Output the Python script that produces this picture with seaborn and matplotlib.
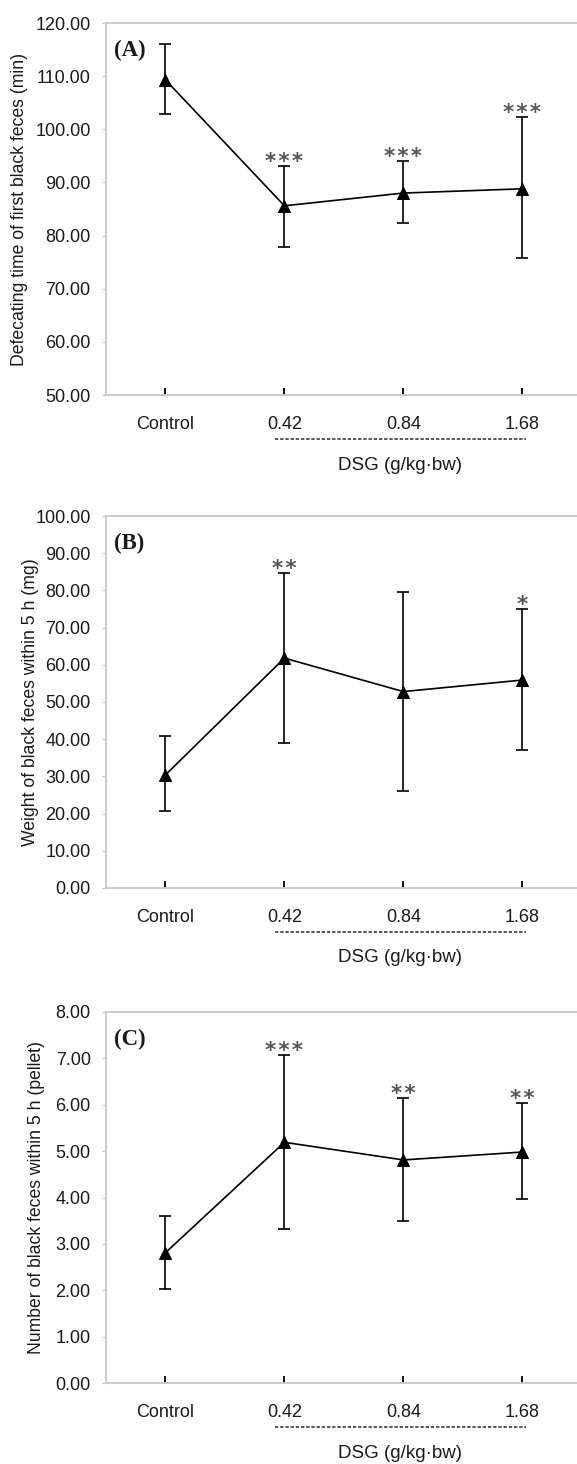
import numpy as np
import pandas as pd
import matplotlib
matplotlib.use("Agg")
import matplotlib.pyplot as plt
import matplotlib.transforms as mtransforms
import seaborn as sns

# groups on the x axis
groups = ["Control", "0.42", "0.84", "1.68"]

# (A) defecating time of first black feces (min)
time_mean = [109.3, 85.6, 88.0, 88.8]
time_hi = [116.1, 93.1, 94.0, 102.3]
time_lo = [102.9, 77.9, 82.3, 75.7]
time_stars = ["", "***", "***", "***"]

# (B) weight of black feces within 5 h (mg)
weight_mean = [30.4, 61.8, 52.8, 55.9]
weight_hi = [40.9, 84.8, 79.7, 74.9]
weight_lo = [20.8, 38.9, 26.0, 37.0]
weight_stars = ["", "**", "", "*"]

# (C) number of black feces within 5 h (pellet)
count_mean = [2.81, 5.19, 4.81, 4.98]
count_hi = [3.61, 7.08, 6.15, 6.04]
count_lo = [2.02, 3.33, 3.49, 3.96]
count_stars = ["", "***", "**", "**"]

sns.set_theme(style="white")
plt.rcParams['font.family'] = ['Liberation Sans', 'DejaVu Sans']

W, H = 577, 1464
fig = plt.figure(figsize=(W / 100, H / 100), dpi=100)

FRAME = "#c8c8c8"
TXT = "#1a1a1a"


def panel(rect, tag, mean, hi, lo, stars, ylim, step, ylabel, ylabel_x):
    ax = fig.add_axes(rect)
    df = pd.DataFrame({"group": groups, "value": mean})
    sns.lineplot(data=df, x="group", y="value", ax=ax, color="black",
                 linewidth=1.2, marker="^", markersize=8, markeredgecolor="black",
                 sort=False)
    m = np.array(mean)
    yerr = [m - np.array(lo), np.array(hi) - m]
    ax.errorbar(groups, mean, yerr=yerr, fmt="none", ecolor="black",
                elinewidth=1.2, capsize=4.5, capthick=1.2)
    for g, top, s in zip(groups, hi, stars):
        if s:
            ax.annotate("\u200a".join(s), (g, top), xytext=(0, -1.5),
                        textcoords="offset points", ha="center", va="baseline",
                        fontsize=15.5, fontweight="bold", color="#555555",
                        family="DejaVu Sans")

    ax.set_xlim(-0.5, 3.46)
    ax.set_ylim(*ylim)
    ax.set_yticks(np.arange(ylim[0], ylim[1] + step / 2, step))
    ax.yaxis.set_major_formatter(matplotlib.ticker.FormatStrFormatter("%.2f"))
    ax.set_xlabel("")
    ax.set_ylabel("")
    for side in ["left", "top", "bottom"]:
        ax.spines[side].set_color(FRAME)
        ax.spines[side].set_linewidth(1.3)
    ax.spines["right"].set_visible(False)
    ax.tick_params(axis="y", direction="out", length=3, width=1, color=FRAME,
                   pad=8, labelsize=13, labelcolor=TXT, left=True)
    ax.tick_params(axis="x", direction="in", length=5, width=1.3, color="black",
                   pad=15, labelsize=13, labelcolor=TXT, bottom=True)

    # panel tag
    ax.text(8 / (W * rect[2]), 1 - 27 / (H * rect[3]), tag, transform=ax.transAxes,
            ha="left", va="center", fontsize=16.5, fontweight="bold",
            family="Liberation Serif", color=TXT)

    # dashed bracket under the DSG doses and the group label
    trans = mtransforms.blended_transform_factory(ax.transData, ax.transAxes)
    ax.plot([0.92, 3.03], [-44 / (H * rect[3])] * 2, transform=trans, clip_on=False,
            color="#2a2a2a", linewidth=1.1, linestyle=(0, (2.2, 1.2)))
    ax.text(1.97, -70 / (H * rect[3]), "DSG (g/kg\u00b7bw)", transform=trans,
            ha="center", va="center", fontsize=13.5, color=TXT)

    # y label
    yc = rect[1] + rect[3] / 2
    fig.text(ylabel_x / W, yc, ylabel, rotation=90, ha="center", va="center",
             fontsize=12.7, color=TXT)
    return ax


left = 106 / W
width = 1 - left
h = 372 / H
panel([left, 1 - 395 / H, width, h], "(A)", time_mean, time_hi, time_lo, time_stars,
      (50, 120), 10, "Defecating time of first black feces (min)", 20)
panel([left, 1 - 888 / H, width, h], "(B)", weight_mean, weight_hi, weight_lo, weight_stars,
      (0, 100), 10, "Weight of black feces within 5 h (mg)", 31)
panel([left, 1 - 1383 / H, width, 371 / H], "(C)", count_mean, count_hi, count_lo, count_stars,
      (0, 8), 1, "Number of black feces within 5 h (pellet)", 37)

fig.savefig("out.png", dpi=100)
